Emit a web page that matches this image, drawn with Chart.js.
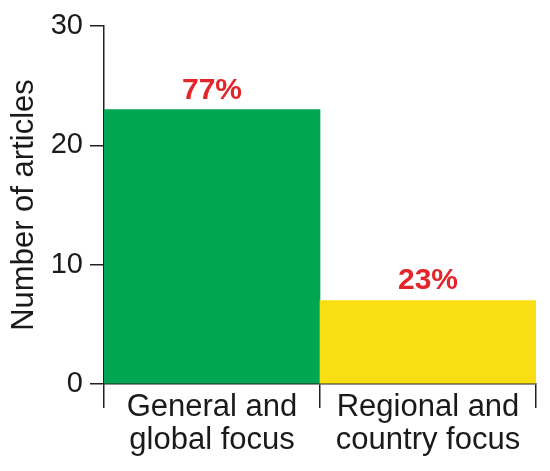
<!DOCTYPE html>
<html lang="en">
<head>
    <meta charset="UTF-8">
    <title>Number of articles by focus</title>
    <script src="https://cdn.jsdelivr.net/npm/chart.js"></script>
    <style>
        html, body {
            margin: 0;
            padding: 0;
            background: #ffffff;
        }
        #wrap {
            width: 550px;
            height: 471px;
        }
    </style>
</head>
<body>
    <div id="wrap">
        <canvas id="focusChart"></canvas>
    </div>

    <script>
        // Data
        const categories = [['General and', 'global focus'], ['Regional and', 'country focus']];
        const articleCounts = [23, 7];
        const shareLabels = ['77%', '23%'];
        const barColors = ['#00a651', '#f9de14'];
        const yTicks = [0, 10, 20, 30];

        // Percent labels above each bar
        const shareLabelPlugin = {
            id: 'shareLabels',
            afterDatasetsDraw(chart) {
                const ctx = chart.ctx;
                const meta = chart.getDatasetMeta(0);
                ctx.save();
                ctx.fillStyle = '#e4262b';
                ctx.font = 'bold 30px Arial, "Liberation Sans", sans-serif';
                ctx.textAlign = 'center';
                ctx.textBaseline = 'alphabetic';
                meta.data.forEach((bar, i) => {
                    ctx.fillText(shareLabels[i], bar.x, bar.y - 11);
                });
                ctx.restore();
            }
        };

        const ctx = document.getElementById('focusChart').getContext('2d');
        new Chart(ctx, {
            type: 'bar',
            data: {
                labels: categories,
                datasets: [{
                    data: articleCounts,
                    backgroundColor: barColors,
                    borderWidth: 0,
                    categoryPercentage: 1.0,
                    barPercentage: 1.0
                }]
            },
            options: {
                responsive: true,
                maintainAspectRatio: false,
                animation: false,
                layout: {
                    padding: { top: 26, right: 14, bottom: 0, left: 0 }
                },
                plugins: {
                    legend: { display: false },
                    tooltip: { enabled: false }
                },
                scales: {
                    x: {
                        offset: true,
                        grid: {
                            offset: true,
                            drawOnChartArea: false,
                            drawTicks: true,
                            tickLength: 24,
                            color: '#222222',
                            lineWidth: 1.5
                        },
                        border: { display: true, color: '#222222', width: 1.5 },
                        ticks: {
                            color: '#1a1a1a',
                            padding: -17,
                            maxRotation: 0,
                            font: { family: 'Arial, "Liberation Sans", sans-serif', size: 31, lineHeight: 1.06 }
                        },
                        afterFit(scale) { scale.height = 87; }
                    },
                    y: {
                        min: 0,
                        max: 30,
                        afterBuildTicks(scale) {
                            scale.ticks = yTicks.map(v => ({ value: v }));
                        },
                        grid: {
                            drawOnChartArea: false,
                            drawTicks: true,
                            tickLength: 14,
                            color: '#222222',
                            lineWidth: 1.5
                        },
                        border: { display: true, color: '#222222', width: 1.5 },
                        ticks: {
                            color: '#1a1a1a',
                            padding: 7,
                            font: { family: 'Arial, "Liberation Sans", sans-serif', size: 29 }
                        },
                        title: {
                            display: true,
                            text: 'Number of articles',
                            color: '#1a1a1a',
                            padding: { top: 6, bottom: 0 },
                            font: { family: 'Arial, "Liberation Sans", sans-serif', size: 31 }
                        },
                        afterFit(scale) { scale.width = 104; }
                    }
                }
            },
            plugins: [shareLabelPlugin]
        });
    </script>
</body>
</html>
